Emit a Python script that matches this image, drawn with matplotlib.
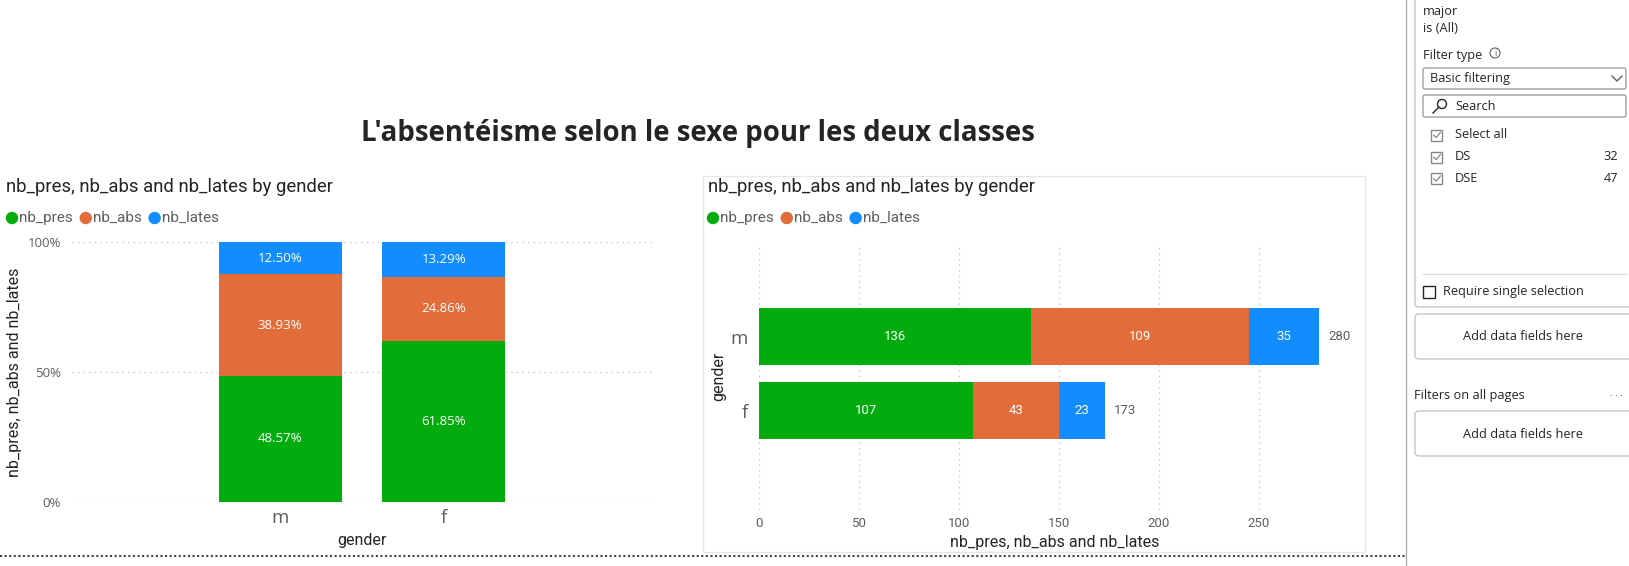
import matplotlib
matplotlib.use('Agg')
import matplotlib.pyplot as plt
from matplotlib.patches import Rectangle, FancyBboxPatch, Circle
from matplotlib.lines import Line2D
from matplotlib.transforms import Affine2D
import warnings
warnings.filterwarnings('ignore')

# ---------------- data ----------------
genders = ['m', 'f']
series = ['nb_pres', 'nb_abs', 'nb_lates']
nb_pres = [136, 107]
nb_abs = [109, 43]
nb_lates = [35, 23]
pct_ticks = [0, 50, 100]
pct_tick_labels = ['0%', '50%', '100%']
count_ticks = [0, 50, 100, 150, 200, 250]
filter_items = ['DS', 'DSE']
filter_counts = [32, 47]

colors = ['#02AC0F', '#E26C3A', '#118DFF']
DARK = '#252423'
GRAY = '#605E5C'
GRID = '#C8C6C4'
DIN = ['Liberation Sans Narrow', 'Roboto', 'DejaVu Sans']
SEGOE = ['Open Sans', 'DejaVu Sans']

W, H = 1629, 566
fig = plt.figure(figsize=(W / 100, H / 100), dpi=100)
fig.patch.set_facecolor('white')
PX = Affine2D().scale(1 / W, -1 / H).translate(0, 1) + fig.transFigure


def axes_px(x0, y0, x1, y1):
    return fig.add_axes([x0 / W, 1 - y1 / H, (x1 - x0) / W, (y1 - y0) / H])


def text_px(x, y, s, **kw):
    kw.setdefault('va', 'center')
    return fig.text(x, y, s, transform=PX, **kw)


def line_px(xs, ys, **kw):
    fig.add_artist(Line2D(xs, ys, transform=PX, **kw))


def fit_width(t, target):
    fig.canvas.draw()
    r = fig.canvas.get_renderer()
    w = t.get_window_extent(r).width
    t.set_fontsize(t.get_fontsize() * target / w)


def legend_row(x0, y):
    fig.canvas.draw()
    r = fig.canvas.get_renderer()
    x = x0
    for name, c in zip(series, colors):
        fig.add_artist(Circle((x, y), 5.5, transform=PX, color=c))
        t = text_px(x + 7, y, name, fontsize=11, color=GRAY, family=DIN, ha='left')
        w = t.get_window_extent(r).width
        x = x + 7 + w + 13


# ---------------- page title ----------------
title = text_px(698, 134, "L'absentéisme selon le sexe pour les deux classes",
                ha='center', fontsize=20, fontweight='bold', color=DARK, family=SEGOE)
fit_width(title, 675)

# ---------------- left chart: 100% stacked column ----------------
sub1 = text_px(6, 187, 'nb_pres, nb_abs and nb_lates by gender', ha='left',
               fontsize=12, color=DARK, family=DIN)
fit_width(sub1, 327)
legend_row(12, 218)

ax1 = axes_px(72, 242, 652, 502)
totals = [p + a + l for p, a, l in zip(nb_pres, nb_abs, nb_lates)]
xpos = list(range(len(genders)))
bottom = [0.0] * len(genders)
for vals, c in zip([nb_pres, nb_abs, nb_lates], colors):
    pct = [100.0 * v / t for v, t in zip(vals, totals)]
    ax1.bar(xpos, pct, bottom=bottom, width=0.75, color=c, linewidth=0, zorder=3)
    for xi, b, p in zip(xpos, bottom, pct):
        ax1.text(xi, b + p / 2, f'{p:.2f}%', ha='center', va='center', color='white',
                 fontsize=9.5, family=SEGOE, zorder=4)
    bottom = [b + p for b, p in zip(bottom, pct)]
ax1.set_xlim(-1.27, 2.27)
ax1.set_ylim(0, 100)
ax1.set_yticks(pct_ticks)
ax1.set_yticklabels(pct_tick_labels)
ax1.set_xticks(xpos)
ax1.set_xticklabels(genders)
for s in ax1.spines.values():
    s.set_visible(False)
ax1.tick_params(axis='both', length=0)
ax1.tick_params(axis='y', pad=8, labelsize=9.5, labelcolor=GRAY)
ax1.tick_params(axis='x', pad=5, labelsize=13.5, labelcolor=GRAY)
for lab in ax1.get_yticklabels():
    lab.set_family(SEGOE)
for lab in ax1.get_xticklabels():
    lab.set_family(SEGOE)
ax1.grid(axis='y', color=GRID, linestyle=(0, (1, 3)), linewidth=1, zorder=0)
ax1.set_xlabel('gender', fontsize=11.5, color=DARK, family=DIN)
ax1.xaxis.set_label_coords(0.5, -(541 - 502) / 260)
ax1.xaxis.label.set_va('center')
ax1.set_ylabel('nb_pres, nb_abs and nb_lates', fontsize=11.5, color=DARK, family=DIN)
ax1.yaxis.set_label_coords(-(72 - 15) / 580, 0.5)
ax1.yaxis.label.set_va('center')

# ---------------- right chart: stacked bar ----------------
fig.add_artist(Rectangle((703, 176), 662, 376, transform=PX, fill=False,
                         edgecolor='#E6E6E6', linewidth=1))
sub2 = text_px(708, 187, 'nb_pres, nb_abs and nb_lates by gender', ha='left',
               fontsize=12, color=DARK, family=DIN)
fit_width(sub2, 327)
legend_row(713, 218)

ax2 = axes_px(759, 243, 1359, 510)
left = [0] * len(genders)
for vals, c in zip([nb_pres, nb_abs, nb_lates], colors):
    ax2.barh(xpos, vals, left=left, height=0.77, color=c, linewidth=0, zorder=3)
    for yi, l, v in zip(xpos, left, vals):
        ax2.text(l + v / 2, yi, f'{v}', ha='center', va='center', color='white',
                 fontsize=9.5, family=DIN, zorder=4)
    left = [l + v for l, v in zip(left, vals)]
for yi, t in zip(xpos, left):
    ax2.text(t + 4.5, yi, f'{t}', ha='left', va='center', color=GRAY,
             fontsize=9.5, family=DIN)
ax2.set_xlim(0, 300)
ax2.set_ylim(2.338, -1.27)
ax2.set_xticks(count_ticks)
ax2.set_yticks(xpos)
ax2.set_yticklabels(genders)
for s in ax2.spines.values():
    s.set_visible(False)
ax2.tick_params(axis='both', length=0)
ax2.tick_params(axis='x', pad=5, labelsize=9.5, labelcolor=GRAY)
ax2.tick_params(axis='y', pad=8, labelsize=13.5, labelcolor=GRAY)
for lab in ax2.get_xticklabels():
    lab.set_family(DIN)
for lab in ax2.get_yticklabels():
    lab.set_family(SEGOE)
ax2.grid(axis='x', color=GRID, linestyle=(0, (1, 3)), linewidth=1, zorder=0)
ax2.set_xlabel('nb_pres, nb_abs and nb_lates', fontsize=11.5, color=DARK, family=DIN)
ax2.xaxis.set_label_coords(0.493, -(542 - 510) / 267)
ax2.xaxis.label.set_va('center')
ax2.set_ylabel('gender', fontsize=11.5, color=DARK, family=DIN)
ax2.yaxis.set_label_coords(-(759 - 719) / 600, 0.5)
ax2.yaxis.label.set_va('center')

# bottom dotted separator
line_px([0, 1405], [556, 556], color='#444444', linestyle=(0, (1, 1.2)), linewidth=1.5)

# ---------------- filter pane ----------------
PANE_TXT = dict(fontsize=9.2, color=DARK, family=SEGOE, ha='left')
line_px([1406, 1406], [0, 566], color='#B3B0AD', linewidth=1)
fig.add_artist(FancyBboxPatch((1415, -10), 240, 317, transform=PX,
                              boxstyle='round,pad=0,rounding_size=4',
                              facecolor='white', edgecolor='#C8C6C4', linewidth=1))
text_px(1423, 11, 'major', **PANE_TXT)
text_px(1423, 29, 'is (All)', **PANE_TXT)
text_px(1423, 55, 'Filter type', **PANE_TXT)
fig.add_artist(Circle((1495, 53), 5, transform=PX, fill=False, edgecolor='#605E5C', linewidth=0.8))
text_px(1495, 53.5, 'i', ha='center', fontsize=6.5, color=GRAY, family=SEGOE)

fig.add_artist(FancyBboxPatch((1423, 68), 203, 21, transform=PX,
                              boxstyle='round,pad=0,rounding_size=2',
                              facecolor='white', edgecolor='#A19F9D', linewidth=1))
text_px(1430, 78.5, 'Basic filtering', **PANE_TXT)
line_px([1612, 1617, 1622], [76, 81, 76], color=GRAY, linewidth=1)

fig.add_artist(FancyBboxPatch((1423, 95), 203, 22, transform=PX,
                              boxstyle='round,pad=0,rounding_size=2',
                              facecolor='white', edgecolor='#A19F9D', linewidth=1))
fig.add_artist(Circle((1442, 104), 4.5, transform=PX, fill=False, edgecolor=DARK, linewidth=1))
line_px([1438.8, 1433], [107.2, 113], color=DARK, linewidth=1)
text_px(1455, 106, 'Search', **PANE_TXT)


def checkbox(cx, cy, size, checked, edge):
    fig.add_artist(Rectangle((cx - size / 2, cy - size / 2), size, size, transform=PX,
                             fill=False, edgecolor=edge, linewidth=1))
    if checked:
        line_px([cx - 3.2, cx - 0.8, cx + 3.5], [cy + 0.2, cy + 2.6, cy - 2.6],
                color=edge, linewidth=0.9)


checkbox(1437, 135, 11, True, '#8A8886')
text_px(1455, 135, 'Select all', **PANE_TXT)
for i, (item, cnt) in enumerate(zip(filter_items, filter_counts)):
    yy = 157 + i * 21.5
    checkbox(1437, yy, 11, True, '#8A8886')
    text_px(1455, yy, item, **PANE_TXT)
    text_px(1618, yy, str(cnt), fontsize=9.2, color=DARK, family=SEGOE, ha='right')

line_px([1423, 1626], [274, 274], color='#E1DFDD', linewidth=1)
checkbox(1429, 292, 12, False, DARK)
text_px(1443, 292, 'Require single selection', **PANE_TXT)

for y0 in (314, 411):
    fig.add_artist(FancyBboxPatch((1415, y0), 240, 45, transform=PX,
                                  boxstyle='round,pad=0,rounding_size=4',
                                  facecolor='white', edgecolor='#C8C6C4', linewidth=1))
    text_px(1523, y0 + 23, 'Add data fields here', ha='center', fontsize=9.2,
            color=DARK, family=SEGOE)
text_px(1414, 395, 'Filters on all pages', **PANE_TXT)
text_px(1616, 393, '. . .', ha='center', fontsize=7, color=GRAY, family=SEGOE)

fig.savefig('out.png', dpi=100, facecolor='white')
